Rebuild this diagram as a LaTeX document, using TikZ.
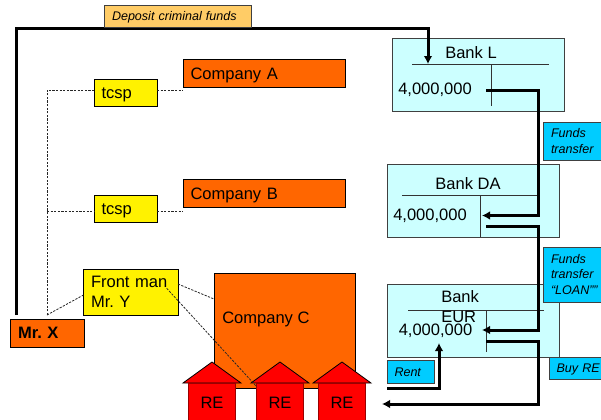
\documentclass[tikz,border=0pt]{standalone}
\usepackage{fontspec}
\setmainfont{Liberation Sans}
\usetikzlibrary{arrows.meta}
\definecolor{orangebox}{HTML}{FF6600}
\definecolor{bankcyan}{HTML}{CCFFFF}
\definecolor{noteblue}{HTML}{00CCFF}
\definecolor{notetan}{HTML}{FFCC66}
\definecolor{darkred}{HTML}{990000}
\tikzset{>={Latex[length=6pt,width=6.5pt]}}
\tikzset{
  sized/.style 2 args={minimum width=#1*0.75pt, minimum height=#2*0.75pt, text width=(#1-15)*0.75pt},
  oneline/.style={text depth=0pt},
  plainbox/.style={draw, anchor=north west, inner xsep=5.625pt, inner ysep=0pt, outer sep=0pt, align=left, line width=0.75pt, font=\fontsize{12.4}{15}\selectfont},
  company/.style={plainbox, oneline, fill=orangebox},
  helper/.style={plainbox, fill=yellow},
  note/.style={plainbox, draw=black!75, fill=noteblue, font=\fontsize{9.4}{11.6}\selectfont\itshape},
  bank/.style 2 args={draw=black!75, fill=bankcyan, line width=0.75pt, anchor=north west, inner sep=0pt, outer sep=0pt, minimum width=#1*0.75pt, minimum height=#2*0.75pt},
  banktext/.style={inner sep=0pt, align=left, font=\fontsize{12.4}{15}\selectfont},
  ledger/.style={black!80, line width=0.7pt},
  money/.style={line width=2.25pt},
  link/.style={dash pattern=on 1.7pt off 1pt, black!85, line width=0.6pt},
}

\begin{document}
\frenchspacing
\begin{tikzpicture}[x=0.75pt, y=-0.75pt]
        \useasboundingbox (0, 0) rectangle (601, 419);
        \clip (0, 0) rectangle (601, 419);
        % banks
        \node[bank={172}{72.5}] (bankL) at (392, 38.5) {};
        \node[bank={172}{73}] (bankDA) at (387, 164) {};
        \node[bank={172}{73}] (bankEUR) at (387, 284) {};
        \draw[ledger] (412, 64.5) -- (549, 64.5);
        \draw[ledger] (491, 64.5) -- (491, 106);
        \draw[ledger] (402, 195) -- (538, 195);
        \draw[ledger] (480.5, 195) -- (480.5, 237);
        \draw[ledger] (408, 310) -- (544, 310);
        \draw[ledger] (486, 310) -- (486, 352);
        \node[banktext] (titleL) at (471, 53) {Bank L};
        \node[banktext] (titleDA) at (468, 184) {Bank DA};
        \node[banktext, anchor=north west] (titleEUR) at (441, 290.5) {Bank\\EUR};
        \node[banktext, anchor=west] (amountL) at (398, 90) {4,000,000};
        \node[banktext, anchor=west] (amountDA) at (393, 216) {4,000,000};
        \node[banktext, anchor=west] (amountEUR) at (398.5, 331) {4,000,000};
        % companies and people
        \node[company, sized={162}{27.5}] (compA) at (183, 59.5) {Company A};
        \node[company, sized={162}{27.5}] (compB) at (183, 179.5) {Company B};
        \node[company, sized={141.5}{115}] (compC) at (214, 273) {};
        \node[banktext, anchor=west] (compCtext) at (222, 319) {Company C};
        \node[helper, oneline, sized={63}{27.5}] (tcspA) at (94, 79) {tcsp};
        \node[helper, oneline, sized={63}{27.5}] (tcspB) at (94, 195) {tcsp};
        \node[helper, sized={94.5}{46.5}] (frontman) at (83.5, 269) {Front man\\Mr. Y};
        \node[company, sized={73.5}{28}, font=\fontsize{12.4}{15}\selectfont\bfseries] (mrX) at (10.5, 319) {Mr. X};
        % real estate
        \foreach \hname/\hx in {reA/212, reB/280, reC/342} {
          \draw[black, fill=red, line width=0.6pt] (\hx-29, 383) -- (\hx, 362) -- (\hx+29, 383) -- cycle;
          \node[draw=darkred, fill=red, line width=0.75pt, minimum width=47.5*0.75pt, minimum height=40*0.75pt,
            inner sep=0pt, outer sep=0pt, anchor=north, font=\fontsize{12.4}{15}\selectfont] (\hname) at (\hx, 383) {RE};
        }
        % dotted ownership lines
        \coordinate (xtop) at (47, 315);
        \coordinate (xrail) at (47, 0);
        \coordinate (frontin) at (83.5, 295);
        \coordinate (frontout) at (178, 284);
        \coordinate (frontinner) at (166.7, 288.3);
        \coordinate (compCin) at (214, 299);
        \coordinate (reBin) at (256.7, 386.7);
        \coordinate (tcspAout) at (157, 90);
        \coordinate (tcspBout) at (157, 211);
        \coordinate (compAin) at (183, 90);
        \coordinate (compBin) at (183, 211);
        \coordinate (tcspAin) at (94, 90);
        \coordinate (tcspBin) at (94, 211);
        \draw[link] (xtop) |- (tcspAin);
        \draw[link] (xrail |- tcspBin) -- (tcspBin);
        \draw[link] (tcspAout) -- (compAin);
        \draw[link] (tcspBout) -- (compBin);
        \draw[link] (xtop) -- (frontin);
        \draw[link] (frontout) -- (compCin);
        \draw[link] (frontinner) -- (reBin);
        % money flows
        \coordinate (xout) at (16, 315);
        \coordinate (inL) at (428, 64);
        \coordinate (outL) at (486, 90);
        \coordinate (inDA) at (482, 215.5);
        \coordinate (outDA) at (486, 226);
        \coordinate (inEUR) at (482, 330);
        \coordinate (outEUR) at (486, 341);
        \coordinate (inRE) at (382, 404);
        \coordinate (rentout) at (387, 388);
        \coordinate (rentin) at (439, 343);
        \coordinate (rail) at (538, 0);
        \coordinate (toprail) at (0, 28);
        \draw[money, ->] (xout) |- (toprail -| inL) -- (inL);
        \draw[money, ->] (outL) -| (rail |- inDA) -- (inDA);
        \draw[money, ->] (outDA) -| (rail |- inEUR) -- (inEUR);
        \draw[money, ->] (outEUR) -| (rail |- inRE) -- (inRE);
        \draw[money, ->] (rentout) -| (rentin);
        % labels
        \node[note, oneline, fill=notetan, sized={146.5}{22.5}] (deposit) at (104.5, 5) {Deposit criminal funds};
        \node[note, sized={70}{38}] (fundsA) at (543.5, 122) {Funds\\transfer};
        \node[note, sized={70}{55}] (fundsB) at (543.5, 247) {Funds\\transfer\\“LOAN””};
        \node[note, oneline, sized={47}{22.5}] (rent) at (387, 360.5) {Rent};
        \node[note, oneline, sized={65}{22}] (buyre) at (549, 357) {Buy RE};
      \end{tikzpicture}
\end{document}
